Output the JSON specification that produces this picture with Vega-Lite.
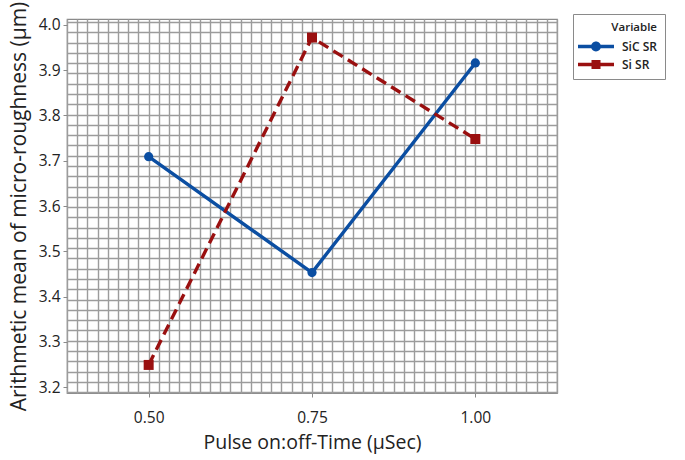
{
  "$schema": "https://vega.github.io/schema/vega-lite/v6.json",
  "autosize": "none",
  "width": 490,
  "height": 374,
  "padding": {"left": 67, "top": 19, "right": 128, "bottom": 67},
  "background": "white",
  "config": {
    "font": "Open Sans",
    "view": {"stroke": "#8a8a8a", "strokeWidth": 1.2},
    "axis": {
      "domain": false,
      "gridColor": "#9c9c9c",
      "gridWidth": 1.4,
      "gridOpacity": 1,
      "tickColor": "#8a8a8a",
      "tickSize": 4,
      "labelFontSize": 15.5,
      "labelColor": "#222222",
      "titleFontSize": 19.5,
      "titleFontWeight": "normal",
      "titleColor": "#222222",
      "labelOverlap": false,
      "labelBound": false,
      "labelFlush": false
    }
  },
  "data": {
    "values": [
      {"time": 0.5, "series": "SiC SR", "value": 3.709},
      {"time": 0.75, "series": "SiC SR", "value": 3.453},
      {"time": 1.0, "series": "SiC SR", "value": 3.916},
      {"time": 0.5, "series": "Si SR", "value": 3.249},
      {"time": 0.75, "series": "Si SR", "value": 3.972},
      {"time": 1.0, "series": "Si SR", "value": 3.748}
    ]
  },
  "encoding": {
    "x": {
      "field": "time",
      "type": "quantitative",
      "title": "Pulse on:off-Time (µSec)",
      "scale": {"domain": [0.375, 1.125], "nice": false, "zero": false},
      "axis": {
        "values": [0.375, 0.390625, 0.40625, 0.421875, 0.4375, 0.453125, 0.46875, 0.484375, 0.5, 0.515625, 0.53125, 0.546875, 0.5625, 0.578125, 0.59375, 0.609375, 0.625, 0.640625, 0.65625, 0.671875, 0.6875, 0.703125, 0.71875, 0.734375, 0.75, 0.765625, 0.78125, 0.796875, 0.8125, 0.828125, 0.84375, 0.859375, 0.875, 0.890625, 0.90625, 0.921875, 0.9375, 0.953125, 0.96875, 0.984375, 1.0, 1.015625, 1.03125, 1.046875, 1.0625, 1.078125, 1.09375, 1.109375, 1.125],
        "labelExpr": "(datum.value == 0.5 || datum.value == 0.75 || datum.value == 1) ? format(datum.value, '.2f') : ''",
        "tickOpacity": {"condition": {"test": "datum.value == 0.5 || datum.value == 0.75 || datum.value == 1", "value": 1}, "value": 0},
        "labelPadding": 13,
        "titlePadding": 8
      }
    },
    "y": {
      "field": "value",
      "type": "quantitative",
      "title": "Arithmetic mean of micro-roughness (µm)",
      "scale": {"domain": [3.187, 4.013], "nice": false, "zero": false},
      "axis": {
        "values": [3.2, 3.3, 3.4, 3.5, 3.6, 3.7, 3.8, 3.9, 4.0, 3.189, 3.2117, 3.2344, 3.2571, 3.2798, 3.3025, 3.3252, 3.3479, 3.3706, 3.3933, 3.416, 3.4387, 3.4614, 3.4841, 3.5068, 3.5295, 3.5522, 3.5749, 3.5976, 3.6203, 3.643, 3.6657, 3.6884, 3.7111, 3.7338, 3.7565, 3.7792, 3.8019, 3.8246, 3.8473, 3.87, 3.8927, 3.9154, 3.9381, 3.9608, 3.9835, 4.0062],
        "labelExpr": "abs(datum.value * 10 - round(datum.value * 10)) < 0.000001 ? format(datum.value, '.1f') : ''",
        "tickOpacity": {"condition": {"test": "abs(datum.value * 10 - round(datum.value * 10)) < 0.000001", "value": 1}, "value": 0},
        "gridOpacity": {"condition": {"test": "abs(datum.value * 10 - round(datum.value * 10)) < 0.000001", "value": 0}, "value": 1},
        "labelPadding": 3,
        "titleFontSize": 21,
        "titlePadding": 9
      }
    }
  },
  "layer": [
    {
      "transform": [{"filter": "datum.series == 'SiC SR'"}],
      "mark": {"type": "line", "strokeWidth": 3.4, "color": "#0b4ea2"},
      "encoding": {}
    },
    {
      "transform": [{"filter": "datum.series == 'Si SR'"}],
      "mark": {"type": "line", "strokeWidth": 3.4, "color": "#9a1010", "strokeDash": [11, 6]},
      "encoding": {}
    },
    {
      "transform": [{"filter": "datum.series == 'SiC SR'"}],
      "mark": {"type": "point", "shape": "circle", "filled": true, "opacity": 1, "size": 85, "color": "#0b4ea2"}
    },
    {
      "transform": [{"filter": "datum.series == 'Si SR'"}],
      "mark": {"type": "point", "shape": "square", "filled": true, "opacity": 1, "size": 100, "color": "#9a1010"}
    },
    {
      "transform": [{"filter": "datum.time > 100"}],
      "mark": {"type": "point", "filled": true, "opacity": 1},
      "encoding": {
        "color": {
          "field": "series",
          "type": "nominal",
          "title": "Variable",
          "scale": {"domain": ["SiC SR", "Si SR"], "range": ["#0b4ea2", "#9a1010"]}
        },
        "shape": {
          "field": "series",
          "type": "nominal",
          "title": "Variable",
          "scale": {"domain": ["SiC SR", "Si SR"], "range": ["M-2,-0.2H2V0.2H-2Z M0.55,0A0.55,0.55,0,1,1,-0.55,0A0.55,0.55,0,1,1,0.55,0Z", "M-2,-0.2H2V0.2H-2Z M-0.5,-0.5H0.5V0.5H-0.5Z"]},
          "legend": {
            "title": "Variable",
            "orient": "none",
            "legendX": 506,
            "legendY": -5,
            "padding": 8,
            "strokeColor": "#8a8a8a",
            "fillColor": "white",
            "titleFontSize": 11.5,
            "titleFontWeight": 600,
            "titleColor": "#222222",
            "titleAnchor": "end",
            "titlePadding": 4,
            "labelFontSize": 12,
            "labelFontWeight": 600,
            "labelColor": "#222222",
            "labelOffset": 17,
            "symbolOffset": 6,
            "symbolSize": 324,
            "symbolStrokeWidth": 0,
            "symbolOpacity": 1,
            "rowPadding": 3
          }
        }
      }
    }
  ]
}
